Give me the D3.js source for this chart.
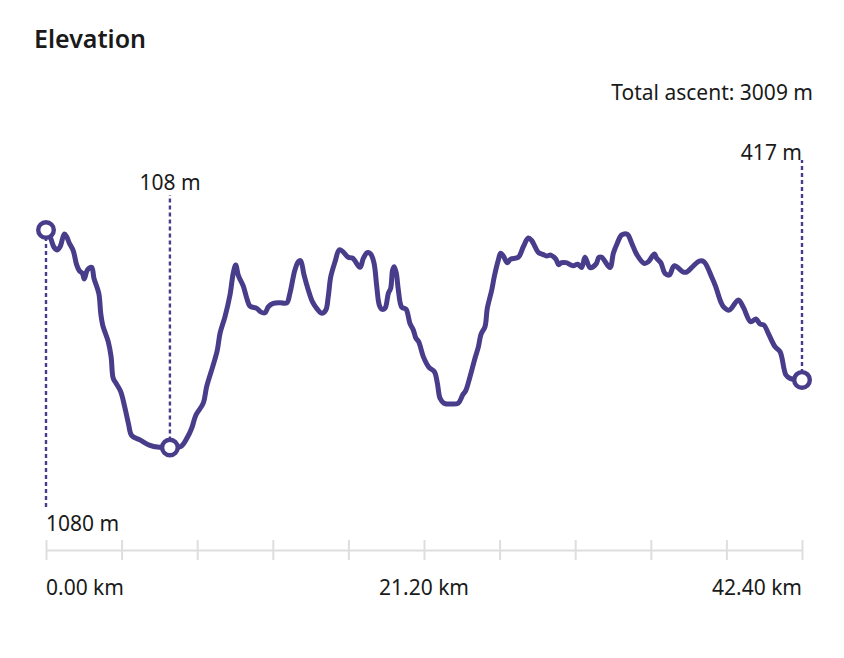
<!DOCTYPE html>
<html><head><meta charset="utf-8">
<script src="https://cdn.jsdelivr.net/npm/d3@7"></script>
<style>html,body{margin:0;padding:0;background:#fff}svg{display:block}
text{font-family:"Noto Sans",sans-serif;fill:#1a1a1a}</style></head>
<body><svg id="c" width="844" height="658"></svg>
<script>
const titleText = "Elevation";
const ascentText = "Total ascent: 3009 m";
const distanceMax = 42.4;
const tickCount = 10;
const tickLabels = ["0.00 km","21.20 km","42.40 km"];
const distanceKm = [0,.26,.45,.63,.79,1.03,1.16,1.31,1.53,1.72,1.87,2.04,2.15,2.32,2.56,2.69,2.96,3.07,3.18,3.49,3.65,3.77,3.93,4.19,4.43,4.62,4.81,5.27,5.79,6.35,6.95,7.55,7.92,8.17,8.41,8.82,9.01,9.38,9.61,9.76,10.04,10.32,10.50,10.64,10.79,11.06,11.26,11.44,11.82,12.04,12.28,12.47,12.75,13.12,13.50,13.68,13.96,14.15,14.28,14.47,14.71,14.94,15.18,15.46,15.69,15.83,15.97,16.21,16.45,16.67,16.95,17.20,17.61,17.80,18.02,18.21,18.40,18.55,18.69,18.83,19.01,19.20,19.33,19.44,19.53,19.65,19.76,19.95,20.19,20.41,20.60,20.75,20.90,21.16,21.48,21.78,21.95,22.10,22.32,22.75,23.12,23.37,23.54,23.78,24.06,24.25,24.40,24.62,24.75,25.00,25.14,25.37,25.50,25.65,25.87,26.06,26.49,26.77,27.05,27.24,27.43,27.61,27.89,28.08,28.31,28.60,28.75,28.92,29.16,29.57,29.82,30.04,30.23,30.51,30.85,31.01,31.17,31.63,31.82,32.04,32.29,32.60,32.85,33.13,33.54,33.78,34.12,34.25,34.48,34.72,34.96,35.24,35.74,35.93,36.30,36.64,36.90,37.34,37.56,37.84,38.02,38.32,38.83,39.11,39.52,39.82,40.04,40.27,40.51,40.89,41.17,41.50,41.73,42.40];
const elevationM = [1080,1043,1003,991,1005,1062,1050,1021,987,924,898,886,861,901,913,864,797,708,655,581,514,417,395,358,284,216,161,142,119,109,108,112,152,194,253,306,380,477,544,618,693,790,886,924,876,830,775,740,730,714,710,737,752,755,754,797,901,938,943,879,812,760,730,708,722,782,871,938,991,982,958,954,913,954,979,973,931,827,745,726,730,797,819,901,916,886,812,735,726,663,633,596,581,514,466,447,395,328,306,302,306,343,362,424,507,558,615,648,730,812,871,946,976,964,934,950,958,1005,1044,1033,1005,980,970,964,968,949,925,934,934,920,927,912,958,912,928,958,958,912,976,1021,1058,1061,1021,971,931,938,973,954,934,886,879,920,892,892,919,941,938,869,827,760,735,722,767,735,670,682,660,655,618,558,536,432,417,410];
const markerIdx = [0,30,distanceKm.length-1];
const markerLabels = ["1080 m","108 m","417 m"];

const svg = d3.select("#c");
const x = d3.scaleLinear().domain([0,distanceMax]).range([46,802]);
const y = d3.scaleLinear().domain([108,1080]).range([447.5,230]);
const ink = "#483d8b", gridc = "#dedede";
const pts = distanceKm.map((d,i)=>[d,elevationM[i]]);

svg.append("text").attr("x",34).attr("y",48).attr("font-size",25).attr("font-weight",600).text(titleText);
svg.append("text").attr("x",813).attr("y",100).attr("text-anchor","end").attr("font-size",21).text(ascentText);

const axis = d3.axisBottom(x).tickValues(d3.range(tickCount+1).map(i=>i*distanceMax/tickCount)).tickSize(0).tickFormat("");
const ag = svg.append("g").attr("transform","translate(0,550)").call(axis);
ag.select(".domain").attr("stroke",gridc).attr("stroke-width",2);
ag.selectAll(".tick line").attr("y1",-10).attr("y2",10).attr("stroke",gridc).attr("stroke-width",2);
[0,distanceMax/2,distanceMax].forEach((v,i)=>{
  svg.append("text").attr("x",x(v)).attr("y",595).attr("font-size",21)
    .attr("text-anchor",["start","middle","end"][i]).text(tickLabels[i]);
});

const leaderEnd = [507,195,160];
const labelAt = [[46,531,"start"],[170,190,"middle"],[802,160,"end"]];
markerIdx.forEach((k,i)=>{
  svg.append("line").attr("x1",x(pts[k][0])).attr("x2",x(pts[k][0]))
    .attr("y1",y(pts[k][1])).attr("y2",leaderEnd[i])
    .attr("stroke",ink).attr("stroke-width",2.4).attr("stroke-dasharray","4 3");
  svg.append("text").attr("x",labelAt[i][0]).attr("y",labelAt[i][1]).attr("text-anchor",labelAt[i][2])
    .attr("font-size",21).text(markerLabels[i]);
});

svg.append("path").attr("d",d3.line().x(d=>x(d[0])).y(d=>y(d[1])).curve(d3.curveCatmullRom)(pts))
  .attr("fill","none").attr("stroke",ink).attr("stroke-width",5).attr("stroke-linejoin","round").attr("stroke-linecap","round");

svg.selectAll("circle.m").data(markerIdx).join("circle").attr("class","m")
  .attr("cx",k=>x(pts[k][0])).attr("cy",k=>y(pts[k][1])).attr("r",7.8)
  .attr("fill","#fff").attr("stroke",ink).attr("stroke-width",4.4);
</script></body></html>
